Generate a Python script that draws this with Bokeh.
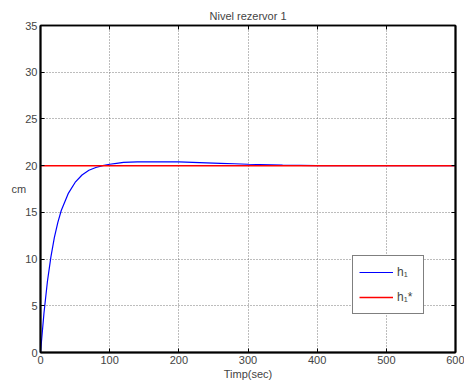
from bokeh.plotting import figure
from bokeh.models import Legend, LegendItem, FixedTicker, Range1d, LinearAxis
from bokeh.embed import file_html
from bokeh.resources import INLINE

# data
t = [0, 5, 10, 15, 20, 25, 30, 40, 50, 60, 70, 80, 90, 100, 110, 120, 140,
     160, 180, 200, 220, 240, 260, 280, 300, 350, 400, 500, 600]
h1 = [0, 4.2, 7.6, 10.2, 12.3, 13.9, 15.2, 17.0, 18.2, 19.0, 19.5, 19.8, 20.0,
      20.15, 20.25, 20.35, 20.4, 20.4, 20.4, 20.4, 20.35, 20.3, 20.25, 20.2,
      20.15, 20.05, 20.0, 20.0, 20.0]
t_ref = [0, 600]
h1_ref = [20, 20]
x_ticks = [0, 100, 200, 300, 400, 500, 600]
y_ticks = [0, 5, 10, 15, 20, 25, 30, 35]

FONT = "Liberation Sans"

p = figure(frame_width=415, frame_height=327, output_backend="svg",
           toolbar_location=None, x_range=Range1d(0, 600), y_range=Range1d(0, 35),
           min_border_left=40, min_border_right=9, min_border_top=25, min_border_bottom=0,
           background_fill_color="white", border_fill_color="white")
p.outline_line_color = "black"
p.outline_line_width = 1.5

p.title.text = "Nivel rezervor 1"
p.title.align = "center"
p.title.text_font = FONT
p.title.text_font_size = "11px"
p.title.text_font_style = "normal"
p.title.standoff = 7

for ax in [p.xaxis[0], p.yaxis[0]]:
    ax.major_label_text_font = FONT
    ax.major_label_text_font_size = "11px"
    ax.axis_label_text_font = FONT
    ax.axis_label_text_font_size = "11px"
    ax.axis_label_text_font_style = "normal"
    ax.major_tick_in = 4
    ax.major_tick_out = 0
    ax.minor_tick_line_color = None
    ax.axis_line_width = 2
    ax.major_tick_line_color = "black"
    ax.major_label_standoff = 3

p.xaxis[0].ticker = FixedTicker(ticks=x_ticks)
p.yaxis[0].ticker = FixedTicker(ticks=y_ticks)
p.xaxis[0].axis_label = "Timp(sec)"
p.xaxis[0].axis_label_standoff = 1
p.yaxis[0].axis_label = "cm"
p.yaxis[0].axis_label_orientation = "horizontal"
p.yaxis[0].axis_label_standoff = -4

top = LinearAxis(ticker=FixedTicker(ticks=x_ticks),
                 major_label_overrides={v: "" for v in x_ticks},
                 major_tick_in=4, major_tick_out=0, minor_tick_line_color=None,
                 axis_line_width=1.5, major_label_standoff=0)
right = LinearAxis(ticker=FixedTicker(ticks=y_ticks),
                   major_label_overrides={v: "" for v in y_ticks},
                   major_tick_in=4, major_tick_out=0, minor_tick_line_color=None,
                   axis_line_width=2, major_label_standoff=0)
p.add_layout(top, "above")
p.add_layout(right, "right")

p.grid.ticker = None
p.xgrid.ticker = FixedTicker(ticks=x_ticks)
p.ygrid.ticker = FixedTicker(ticks=y_ticks)
p.grid.grid_line_color = "#7a7a7a"
p.grid.grid_line_dash = "1 2"
p.grid.grid_line_width = 1

r1 = p.line(t, h1, line_color="blue", line_width=1.2)
r2 = p.line(t_ref, h1_ref, line_color="red", line_width=1.5)

legend = Legend(items=[LegendItem(label="h\u2081", renderers=[r1]),
                       LegendItem(label="h\u2081*", renderers=[r2])],
                location=(312, 38))
legend.border_line_color = "black"
legend.border_line_width = 1
legend.label_text_font = FONT
legend.label_text_font_size = "12px"
legend.glyph_width = 34
legend.label_standoff = 4
legend.spacing = 5
legend.padding = 6
legend.margin = 0
legend.background_fill_alpha = 1
p.add_layout(legend, "center")

open("out.html", "w").write(file_html(p, INLINE))
